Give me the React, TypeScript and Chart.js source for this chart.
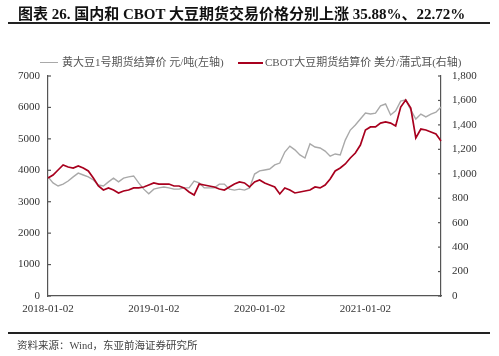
import React, { useEffect, useRef } from "react";
import { Chart, registerables } from "chart.js";

Chart.register(...registerables);

const dates = [
  "2018-01-02", "2018-01-19", "2018-02-06", "2018-02-23", "2018-03-13", "2018-03-30", "2018-04-16",
  "2018-05-04", "2018-05-21", "2018-06-07", "2018-06-25", "2018-07-12", "2018-07-30", "2018-08-16",
  "2018-09-02", "2018-09-20", "2018-10-07", "2018-10-24", "2018-11-11", "2018-11-28", "2018-12-16",
  "2019-01-02", "2019-01-19", "2019-02-06", "2019-02-23", "2019-03-13", "2019-03-30", "2019-04-16",
  "2019-05-04", "2019-05-21", "2019-06-07", "2019-06-25", "2019-07-12", "2019-07-30", "2019-08-16",
  "2019-09-02", "2019-09-20", "2019-10-07", "2019-10-24", "2019-11-11", "2019-11-28", "2019-12-16",
  "2020-01-02", "2020-01-19", "2020-02-06", "2020-02-23", "2020-03-12", "2020-03-29", "2020-04-15",
  "2020-05-03", "2020-05-20", "2020-06-06", "2020-06-24", "2020-07-11", "2020-07-29", "2020-08-15",
  "2020-09-01", "2020-09-19", "2020-10-06", "2020-10-23", "2020-11-10", "2020-11-27", "2020-12-15",
  "2021-01-02", "2021-01-19", "2021-02-06", "2021-02-23", "2021-03-13", "2021-03-30", "2021-04-16",
  "2021-05-04", "2021-05-21", "2021-06-07", "2021-06-25", "2021-07-12", "2021-07-30", "2021-08-16",
  "2021-09-02", "2021-09-20",
];

// 黄大豆1号期货结算价 元/吨 (left axis)
const dceSoybean = [
  3790, 3600, 3500, 3560, 3660, 3790, 3910, 3850, 3790, 3690, 3530, 3500, 3630, 3750,
  3630, 3750, 3790, 3820, 3600, 3400, 3250,
  3400, 3440, 3470, 3440, 3400, 3400, 3440, 3440, 3660, 3600, 3440, 3440, 3440, 3560,
  3560, 3400, 3370, 3400, 3370, 3440, 3880,
  3980, 4010, 4040, 4170, 4230, 4580, 4770, 4650, 4490, 4390, 4840, 4740, 4710, 4610,
  4450, 4520, 4490, 4960, 5280, 5440, 5630,
  5820, 5790, 5820, 6050, 6110, 5760, 5890, 6200, 6240, 5920, 5630, 5790, 5700, 5790,
  5850, 6010,
];

// CBOT大豆期货结算价 美分/蒲式耳 (right axis)
const cbotSoybean = [
  965, 990, 1031, 1072, 1055, 1047, 1064, 1047, 1023, 965, 900, 867, 884, 867,
  843, 859, 867, 884, 884, 892, 908,
  925, 916, 916, 916, 900, 900, 884, 851, 826, 916, 908, 900, 892, 875,
  867, 892, 916, 933, 925, 892, 933,
  949, 925, 908, 892, 835, 884, 867, 843, 851, 859, 867, 892, 884, 908,
  957, 1023, 1047, 1080, 1129, 1170, 1235,
  1358, 1383, 1383, 1415, 1424, 1415, 1391, 1546, 1604, 1538, 1293, 1366, 1358, 1342,
  1325, 1268,
];

const xTickLabels = ["2018-01-02", "2019-01-02", "2020-01-02", "2021-01-02"];
const leftAxisMax = 7000;
const leftAxisStep = 1000;
const rightAxisMax = 1800;
const rightAxisStep = 200;

const titleText = "图表 26. 国内和 CBOT 大豆期货交易价格分别上涨 35.88%、22.72%";
const legendLeft = "黄大豆1号期货结算价 元/吨(左轴)";
const legendRight = "CBOT大豆期货结算价 美分/蒲式耳(右轴)";
const sourceText = "资料来源：Wind，东亚前海证券研究所";

const GRAY = "#a9a9a9";
const RED = "#a8001e";
const AXIS = "#555555";
const SERIF = "'Liberation Serif', 'Times New Roman', 'Noto Sans CJK SC', serif";

const inwardTicks = {
  id: "inwardTicks",
  afterDraw(chart: any) {
    const { ctx, chartArea } = chart;
    const yL = chart.scales.yL;
    const yR = chart.scales.yR;
    ctx.save();
    ctx.strokeStyle = AXIS;
    ctx.lineWidth = 1.2;
    yL.ticks.forEach((t: any) => {
      const y = yL.getPixelForValue(t.value);
      ctx.beginPath();
      ctx.moveTo(chartArea.left, y);
      ctx.lineTo(chartArea.left + 3, y);
      ctx.stroke();
    });
    yR.ticks.forEach((t: any) => {
      const y = yR.getPixelForValue(t.value);
      ctx.beginPath();
      ctx.moveTo(chartArea.right, y);
      ctx.lineTo(chartArea.right - 3, y);
      ctx.stroke();
    });
    ctx.restore();
  },
};

export default function App() {
  const ref = useRef<HTMLCanvasElement | null>(null);

  useEffect(() => {
    document.body.style.margin = "0";
    if (!ref.current) return;
    const chart = new Chart(ref.current, {
      type: "line",
      data: {
        labels: dates,
        datasets: [
          {
            label: legendRight,
            data: cbotSoybean,
            yAxisID: "yR",
            borderColor: RED,
            borderWidth: 1.7,
            pointRadius: 0,
            tension: 0,
            fill: false,
          },
          {
            label: legendLeft,
            data: dceSoybean,
            yAxisID: "yL",
            borderColor: GRAY,
            borderWidth: 1.4,
            pointRadius: 0,
            tension: 0,
            fill: false,
          },
        ],
      },
      options: {
        responsive: false,
        animation: false,
        devicePixelRatio: 1,
        layout: { padding: { top: 76, left: 0, right: 0, bottom: 36 } },
        plugins: {
          legend: { display: false },
          tooltip: { enabled: false },
          title: { display: false },
        },
        scales: {
          x: {
            type: "category",
            offset: false,
            grid: { display: false, drawTicks: false },
            border: { display: true, color: AXIS, width: 1.2 },
            ticks: {
              autoSkip: false,
              maxRotation: 0,
              minRotation: 0,
              padding: 7,
              color: "#333",
              font: { family: SERIF, size: 11 },
              callback: (_v: any, i: number) =>
                xTickLabels.includes(dates[i]) ? dates[i] : null,
            },
            afterFit: (s: any) => {
              s.height = 24;
            },
          },
          yL: {
            type: "linear",
            position: "left",
            min: 0,
            max: leftAxisMax,
            grid: { display: false, drawTicks: false },
            border: { display: true, color: AXIS, width: 1.2 },
            ticks: {
              stepSize: leftAxisStep,
              padding: 8,
              color: "#333",
              font: { family: SERIF, size: 11 },
              callback: (v: any) => String(v),
            },
            afterFit: (s: any) => {
              s.width = 48;
            },
          },
          yR: {
            type: "linear",
            position: "right",
            min: 0,
            max: rightAxisMax,
            grid: { display: false, drawTicks: false },
            border: { display: true, color: AXIS, width: 1.2 },
            ticks: {
              stepSize: rightAxisStep,
              padding: 11,
              color: "#333",
              font: { family: SERIF, size: 11 },
              callback: (v: any) => Number(v).toLocaleString("en-US"),
            },
            afterFit: (s: any) => {
              s.width = 58;
            },
          },
        },
      },
      plugins: [inwardTicks],
    } as any);
    return () => chart.destroy();
  }, []);

  const abs = (o: React.CSSProperties): React.CSSProperties => ({ position: "absolute", ...o });

  return (
    <div style={{ position: "absolute", left: 0, top: 0, width: 499, height: 356, background: "#fff", overflow: "hidden" }}>
      <canvas ref={ref} width={499} height={356} style={abs({ left: 0, top: 0, width: 499, height: 356 })} />
      <div
        style={abs({
          left: 18,
          top: 5,
          fontFamily: SERIF,
          fontWeight: "bold",
          fontSize: 15,
          lineHeight: "18px",
          color: "#111",
          whiteSpace: "nowrap",
        })}
      >
        {titleText}
      </div>
      <div style={abs({ left: 8, top: 22, width: 482, height: 2, background: "#222" })} />
      <div style={abs({ left: 40, top: 62, width: 18, height: 1.3, background: GRAY })} />
      <div
        style={abs({
          left: 62,
          top: 55,
          fontFamily: SERIF,
          fontSize: 11,
          lineHeight: "14px",
          color: "#555",
          whiteSpace: "nowrap",
        })}
      >
        {legendLeft}
      </div>
      <div style={abs({ left: 238, top: 62, width: 25, height: 1.6, background: RED })} />
      <div
        style={abs({
          left: 265,
          top: 55,
          fontFamily: SERIF,
          fontSize: 11,
          lineHeight: "14px",
          color: "#555",
          whiteSpace: "nowrap",
        })}
      >
        {legendRight}
      </div>
      <div style={abs({ left: 8, top: 332, width: 482, height: 2, background: "#222" })} />
      <div
        style={abs({
          left: 17,
          top: 339,
          fontFamily: SERIF,
          fontSize: 10.5,
          lineHeight: "14px",
          color: "#444",
          whiteSpace: "nowrap",
        })}
      >
        {sourceText}
      </div>
    </div>
  );
}
